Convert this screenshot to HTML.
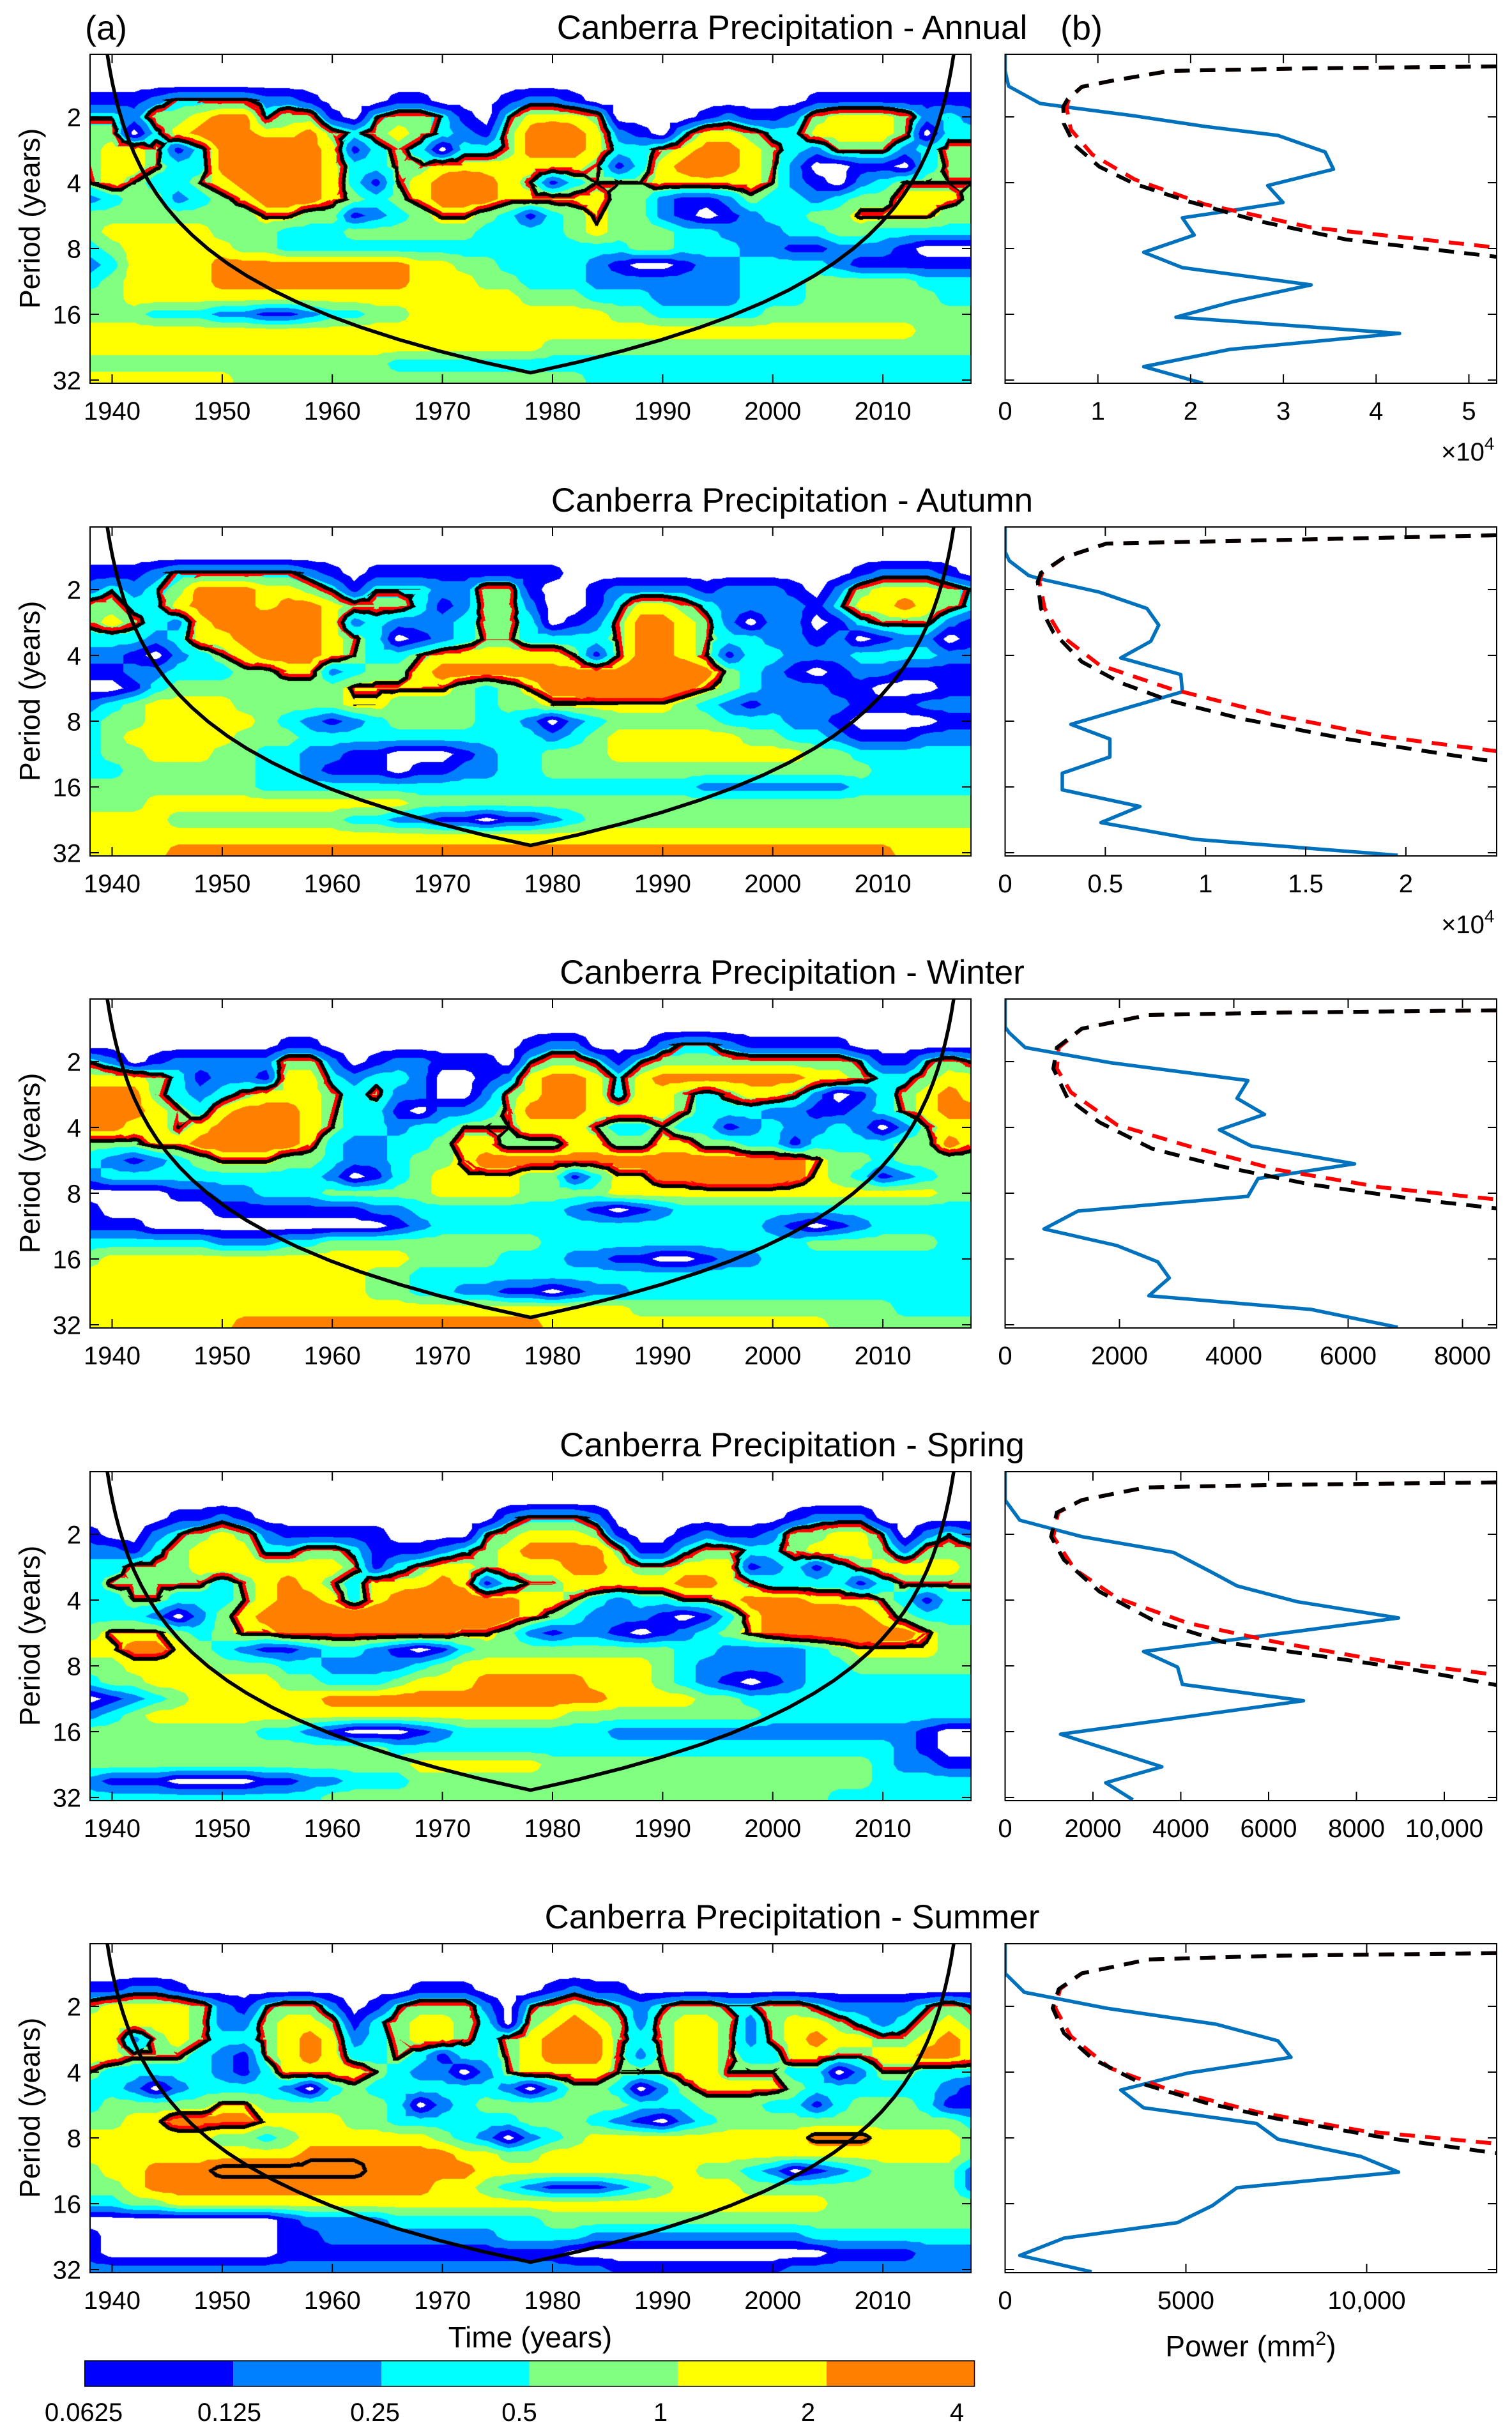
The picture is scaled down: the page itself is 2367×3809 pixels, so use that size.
<!DOCTYPE html>
<html><head><meta charset="utf-8">
<style>
html,body{margin:0;padding:0;background:#fff;}
body{width:2367px;height:3809px;position:relative;overflow:hidden;}
canvas{position:absolute;left:141px;width:1379px;height:515px;background:#c8f0a0;}
svg{position:absolute;left:0;top:0;}
text{font-family:"Liberation Sans",Arial,sans-serif;fill:#000;}
.t{font-size:53px;text-anchor:middle}
.xl text{font-size:40px;text-anchor:middle}
.yl text{font-size:40px;text-anchor:end}
.pl{font-size:45px;text-anchor:middle}
.m{font-size:40px;text-anchor:end}
.bl{fill:none;stroke:#0072BD;stroke-width:5.5;stroke-linejoin:round}
.rd{fill:none;stroke:#f00;stroke-width:6;stroke-dasharray:24 16}
.bk{fill:none;stroke:#000;stroke-width:6;stroke-dasharray:24 16}
.tk{stroke:#000;stroke-width:2;fill:none}
</style></head><body>
<canvas id="c0" width="1379" height="515" style="top:85px"></canvas>
<canvas id="c1" width="1379" height="515" style="top:825px"></canvas>
<canvas id="c2" width="1379" height="515" style="top:1564px"></canvas>
<canvas id="c3" width="1379" height="515" style="top:2304px"></canvas>
<canvas id="c4" width="1379" height="515" style="top:3043px"></canvas>
<svg width="2367" height="3809" viewBox="0 0 2367 3809">
<defs>
<clipPath id="ca" clipPathUnits="userSpaceOnUse"><rect x="141" y="0" width="1379" height="515"/></clipPath>
<clipPath id="cb" clipPathUnits="userSpaceOnUse"><rect x="0" y="0" width="769.5" height="515"/></clipPath>
<polyline id="coi" fill="none" stroke="#000" stroke-width="5.5" stroke-linejoin="round" points="161,-55.4 164,-29 168,0.1 172,24.3 176,45.1 181,67.5 186,86.8 193,110 201,133 210,155 221,178 233,199.5 246,219.7 261,240 281,263.2 301,283.2 326,304.9 356,327.3 386,346.6 426,369 466,388.3 516,409.4 566,427.8 626,447.1 686,464.2 756,481.9 830.5,498.6 905,481.9 975,464.2 1035,447.1 1095,427.8 1145,409.4 1195,388.3 1235,369 1275,346.6 1305,327.3 1335,304.9 1360,283.2 1380,263.2 1400,240 1415,219.7 1428,199.5 1440,178 1451,155 1460,133 1468,110 1475,86.8 1480,67.5 1485,45.1 1489,24.3 1493,0.1 1497,-29 1500,-55.4"/>
<g id="axA">
<rect x="141" y="0" width="1379" height="515" fill="none" stroke="#000" stroke-width="2"/>
<path class="tk" d="M175.5 0v14M347.9 0v14M520.2 0v14M692.6 0v14M865 0v14M1037.4 0v14M1209.7 0v14M1382.1 0v14M175.5 515v-14M347.9 515v-14M520.2 515v-14M692.6 515v-14M865 515v-14M1037.4 515v-14M1209.7 515v-14M1382.1 515v-14M141 98h14M141 201h14M141 304h14M141 407h14M141 510h14M1520 98h-14M1520 201h-14M1520 304h-14M1520 407h-14M1520 510h-14"/>
</g>
<g id="axB">
<rect x="0" y="0" width="769.5" height="515" fill="none" stroke="#000" stroke-width="2"/>
<path class="tk" d="M0 98h14M0 201h14M0 304h14M0 407h14M0 510h14M769.5 98h-14M769.5 201h-14M769.5 304h-14M769.5 407h-14M769.5 510h-14"/>
</g>
</defs>

<text x="133" y="62" font-size="54">(a)</text>
<text x="1660" y="62" font-size="54">(b)</text>

<!-- Panel 1 Annual -->
<g transform="translate(0,85)">
<text class="t" x="1240" y="-24">Canberra Precipitation - Annual</text>
<use href="#coi" clip-path="url(#ca)"/>
<use href="#axA"/>
<g class="xl"><text x="175.5" y="572">1940</text><text x="347.9" y="572">1950</text><text x="520.2" y="572">1960</text><text x="692.6" y="572">1970</text><text x="865" y="572">1980</text><text x="1037.4" y="572">1990</text><text x="1209.7" y="572">2000</text><text x="1382.1" y="572">2010</text></g>
<g class="yl"><text x="127" y="112.5">2</text><text x="127" y="215.5">4</text><text x="127" y="318.5">8</text><text x="127" y="421.5">16</text><text x="127" y="524.5">32</text></g>
<text class="pl" transform="translate(62,257) rotate(-90)">Period (years)</text>
<g transform="translate(1573.5,0)">
<g clip-path="url(#cb)">
<polyline class="bl" points="0,0 0,26 5.5,50 54.7,77 92,82 203,96.5 313,113 427,127 501,153 514,180 411,205.5 435,232 352,245 277.5,256 296,283 217,310 277.5,334 479,361 358,387 267.5,411.5 617.5,437 352,462 217,489 309.5,515"/>
<polyline class="rd" points="769,19 479,22 258,26 164,42 120,51 100,70 96,82 103,118 136.5,157 203,196 313,235 479,271 769,302.5"/>
<polyline class="bk" points="769,19 479,22 258,26 164,42 120,51 98,70 91,82 92,108.6 109,142.5 147.6,176 203,203 286,230 396,261 534.5,290 769,317"/>
</g>
<use href="#axB"/>
<path class="tk" d="M145.2 0v14M290.4 0v14M435.6 0v14M580.8 0v14M726 0v14M145.2 515v-14M290.4 515v-14M435.6 515v-14M580.8 515v-14M726 515v-14"/>
<g class="xl"><text x="0" y="572">0</text><text x="145.2" y="572">1</text><text x="290.4" y="572">2</text><text x="435.6" y="572">3</text><text x="580.8" y="572">4</text><text x="726" y="572">5</text></g>
<text class="m" x="766" y="636">×10<tspan font-size="28" dy="-17">4</tspan></text>
</g>
</g>

<!-- Panel 2 Autumn -->
<g transform="translate(0,825)">
<text class="t" x="1240" y="-24">Canberra Precipitation - Autumn</text>
<use href="#coi" clip-path="url(#ca)"/>
<use href="#axA"/>
<g class="xl"><text x="175.5" y="572">1940</text><text x="347.9" y="572">1950</text><text x="520.2" y="572">1960</text><text x="692.6" y="572">1970</text><text x="865" y="572">1980</text><text x="1037.4" y="572">1990</text><text x="1209.7" y="572">2000</text><text x="1382.1" y="572">2010</text></g>
<g class="yl"><text x="127" y="112.5">2</text><text x="127" y="215.5">4</text><text x="127" y="318.5">8</text><text x="127" y="421.5">16</text><text x="127" y="524.5">32</text></g>
<text class="pl" transform="translate(62,257) rotate(-90)">Period (years)</text>
<g transform="translate(1573.5,0)">
<g clip-path="url(#cb)">
<polyline class="bl" points="0,0 0,39 6.6,53 37,76 53.6,81 147.6,102 222,127.6 240.5,153.6 228,179 181,205 275,231 277.5,258 103,309 164,332 164,360 89.5,385.5 89.5,411.5 211,437.6 150,462.8 297,489 614.7,514"/>
<polyline class="rd" points="769,13 424,20.5 158.6,26 92,48 58,72 53.6,86 62,127.6 87,169.5 147.6,216 258,253 424,295 590,328 769,351"/>
<polyline class="bk" points="769,13 424,20.5 158.6,26 92,48 56,72 51,86 56,127.6 75.5,165 120,211 181,244 258,272 369,300 534.5,332 750,365 769,366"/>
</g>
<use href="#axB"/>
<path class="tk" d="M156.85 0v14M313.7 0v14M470.55 0v14M627.4 0v14M156.85 515v-14M313.7 515v-14M470.55 515v-14M627.4 515v-14"/>
<g class="xl"><text x="0" y="572">0</text><text x="156.85" y="572">0.5</text><text x="313.7" y="572">1</text><text x="470.55" y="572">1.5</text><text x="627.4" y="572">2</text></g>
<text class="m" x="766" y="636">×10<tspan font-size="28" dy="-17">4</tspan></text>
</g>
</g>

<!-- Panel 3 Winter -->
<g transform="translate(0,1564)">
<text class="t" x="1240" y="-24">Canberra Precipitation - Winter</text>
<use href="#coi" clip-path="url(#ca)"/>
<use href="#axA"/>
<g class="xl"><text x="175.5" y="572">1940</text><text x="347.9" y="572">1950</text><text x="520.2" y="572">1960</text><text x="692.6" y="572">1970</text><text x="865" y="572">1980</text><text x="1037.4" y="572">1990</text><text x="1209.7" y="572">2000</text><text x="1382.1" y="572">2010</text></g>
<g class="yl"><text x="127" y="112.5">2</text><text x="127" y="215.5">4</text><text x="127" y="318.5">8</text><text x="127" y="421.5">16</text><text x="127" y="524.5">32</text></g>
<text class="pl" transform="translate(62,257) rotate(-90)">Period (years)</text>
<g transform="translate(1573.5,0)">
<g clip-path="url(#cb)">
<polyline class="bl" points="0,0 0,44 6.6,53 31.5,76 164,99.6 380,127.6 363,155.5 406,180.6 335.5,204.8 385,230 547,258 396,281 380,309 114,332 60.8,360 175,386 239,411.5 257,436.7 225,464.6 479,486 614.7,514"/>
<polyline class="rd" points="769,17.7 424,21.4 224,25 120,46.5 84,76 81,109 103,146 175,197 286,230 424,267 590,295 769,313.8"/>
<polyline class="bk" points="769,17.7 424,21.4 224,25 120,46.5 81,76 75.5,109 97.8,155.5 147.6,193 230.5,234.6 341,262.6 479,290.5 645,313.8 769,327.7"/>
</g>
<use href="#axB"/>
<path class="tk" d="M179 0v14M358 0v14M537 0v14M716 0v14M179 515v-14M358 515v-14M537 515v-14M716 515v-14"/>
<g class="xl"><text x="0" y="572">0</text><text x="179" y="572">2000</text><text x="358" y="572">4000</text><text x="537" y="572">6000</text><text x="716" y="572">8000</text></g>
</g>
</g>

<!-- Panel 4 Spring -->
<g transform="translate(0,2304)">
<text class="t" x="1240" y="-24">Canberra Precipitation - Spring</text>
<use href="#coi" clip-path="url(#ca)"/>
<use href="#axA"/>
<g class="xl"><text x="175.5" y="572">1940</text><text x="347.9" y="572">1950</text><text x="520.2" y="572">1960</text><text x="692.6" y="572">1970</text><text x="865" y="572">1980</text><text x="1037.4" y="572">1990</text><text x="1209.7" y="572">2000</text><text x="1382.1" y="572">2010</text></g>
<g class="yl"><text x="127" y="112.5">2</text><text x="127" y="215.5">4</text><text x="127" y="318.5">8</text><text x="127" y="421.5">16</text><text x="127" y="524.5">32</text></g>
<text class="pl" transform="translate(62,257) rotate(-90)">Period (years)</text>
<g transform="translate(1573.5,0)">
<g clip-path="url(#cb)">
<polyline class="bl" points="0,0 0,44.5 23,76 120,101.7 263.7,126.4 324.5,158 363,178.8 457,203.5 616,229 216.7,281.5 270,306 277.5,333 467,358.6 86.8,411 245.4,462 157.5,487 200,513.7"/>
<polyline class="rd" points="769,16.8 424,20.7 220,24.7 120,44.5 83,64 75.5,101.7 109,153 175,197.6 286,237 424,266.7 590,296 769,318"/>
<polyline class="bk" points="769,16.8 424,20.7 220,24.7 120,44.5 81,64 72,101.7 92,138 147.6,187.7 230.5,232 341,266.7 479,286.5 645,311 769,334"/>
</g>
<use href="#axB"/>
<path class="tk" d="M137.5 0v14M275 0v14M412.5 0v14M550 0v14M687.5 0v14M137.5 515v-14M275 515v-14M412.5 515v-14M550 515v-14M687.5 515v-14"/>
<g class="xl"><text x="0" y="572">0</text><text x="137.5" y="572">2000</text><text x="275" y="572">4000</text><text x="412.5" y="572">6000</text><text x="550" y="572">8000</text><text x="687.5" y="572">10,000</text></g>
</g>
</g>

<!-- Panel 5 Summer -->
<g transform="translate(0,3043)">
<text class="t" x="1240" y="-24">Canberra Precipitation - Summer</text>
<use href="#coi" clip-path="url(#ca)"/>
<use href="#axA"/>
<g class="xl"><text x="175.5" y="572">1940</text><text x="347.9" y="572">1950</text><text x="520.2" y="572">1960</text><text x="692.6" y="572">1970</text><text x="865" y="572">1980</text><text x="1037.4" y="572">1990</text><text x="1209.7" y="572">2000</text><text x="1382.1" y="572">2010</text></g>
<g class="yl"><text x="127" y="112.5">2</text><text x="127" y="215.5">4</text><text x="127" y="318.5">8</text><text x="127" y="421.5">16</text><text x="127" y="524.5">32</text></g>
<text class="pl" transform="translate(62,257) rotate(-90)">Period (years)</text>
<g transform="translate(1573.5,0)">
<g clip-path="url(#cb)">
<polyline class="bl" points="0,0 0,46.4 30,76 158.6,101 330,126 427,152 447.5,177.8 286,202.5 181,229 216.7,256.8 393.6,281.5 427,306 556.6,333 616,357.6 363,382 324.5,410 270,436.6 92,461 23,488 135.4,513.7"/>
<polyline class="rd" points="769,14.8 424,18.8 224,24.7 120,46.4 86,71 78.5,100.8 103,145 164,194.6 258,229 396,263.8 562,293.4 769,313"/>
<polyline class="bk" points="769,14.8 424,18.8 224,24.7 120,46.4 84,71 74.5,100.8 92,140 136.5,180 214,219 313.4,249 424,273.6 590,303 769,328"/>
</g>
<use href="#axB"/>
<path class="tk" d="M283 0v14M566 0v14M283 515v-14M566 515v-14"/>
<g class="xl"><text x="0" y="572">0</text><text x="283" y="572">5000</text><text x="566" y="572">10,000</text></g>
</g>
</g>

<text x="830" y="3675" font-size="46" text-anchor="middle">Time (years)</text>
<text x="1958" y="3689" font-size="46" text-anchor="middle">Power (mm<tspan font-size="30" dy="-18">2</tspan><tspan dy="18">)</tspan></text>

<!-- colorbar -->
<rect x="132.7" y="3696" width="232.6" height="40" fill="#0000ff"/>
<rect x="365.3" y="3696" width="231.7" height="40" fill="#0080ff"/>
<rect x="597" y="3696" width="231.6" height="40" fill="#00ffff"/>
<rect x="828.6" y="3696" width="232.4" height="40" fill="#80ff80"/>
<rect x="1061" y="3696" width="233" height="40" fill="#ffff00"/>
<rect x="1294" y="3696" width="231.5" height="40" fill="#ff8000"/>
<rect x="132.7" y="3696" width="1392.8" height="40" fill="none" stroke="#000" stroke-width="1.5"/>
<g class="xl"><text x="131" y="3790">0.0625</text><text x="359" y="3790">0.125</text><text x="587" y="3790">0.25</text><text x="813" y="3790">0.5</text><text x="1034" y="3790">1</text><text x="1265" y="3790">2</text><text x="1498" y="3790">4</text></g>
</svg>

<script>
(function(){
var Z="00000000000000000000000000000000000000000";
var G=[
[Z,Z,Z,
"1112333322 1000110001 2210000000 00011111111",
"3324456634 4103443103 5554000012 11245554232",
"4403567655 6434543214 6765210355 43355554033",
"4554136777 6513430334 6665334566 54324442344",
"4554336777 6533445555 5554135676 54200110344",
"4543345677 6531456765 4134445555 54210234444",
"2344234566 6543456665 5555442112 43323445554",
"4444444455 4412345543 1345442101 23344555544",
"4555554443 3344444433 3345444332 22334433333",
"3455555443 3333333333 3333344333 22112221000",
"2355556666 6666655443 3332100122 33332111111",
"3455556666 6666655544 3332222222 33344444333",
"4455555555 5555555555 4443332222 33344444433",
"4443332211 2334455555 5555443333 34444444444",
"5555555555 5555555555 5555555555 55555555444",
"5555555555 5555555555 5444444444 44444444444",
"4444444444 4444333333 3333333333 33333333333",
"5555555444 4444444444 4443333333 33333333333",
"5555555444 4444444444 4443333333 33333333333"],
[Z,Z,Z,
"1112333333 2101111111 1100000000 00000122210",
"2323466655 4313332244 1001222212 22102455543",
"4433567656 6544431244 2001355432 22213556543",
"4543256677 6523222344 3012466542 02201344421",
"3332355677 6543012344 3333466543 32212012201",
"2210234566 6543345555 5541466541 33222333322",
"1122333445 5234456666 6666677764 32101221111",
"0013444444 4455555434 5667777654 32221100011",
"2345555444 4455444434 4555555432 12222111222",
"3445555543 2123444433 2023444443 33221000011",
"3455555444 3333333333 3234555555 44332111222",
"3445554433 2211000123 3444555555 55544333333",
"3344444433 2111011223 3444444444 44444433333",
"4444444433 3333333333 3333333322 22222333333",
"4445555555 5555544444 4444444444 44444444444",
"5555444444 4433221101 1234444444 44444444444",
"5555555555 5555555555 5555555555 55555555555",
"5555666666 6666666666 6666666666 66666665555",
"5556666666 6666666666 6666666666 66666666555"],
[Z,Z,Z,
"0000000001 1000000000 1220002332 11111000000",
"3201222224 4201221110 3443134444 44444311343",
"5554312215 5323320012 5665356666 66655433455",
"6664323455 5434220024 5665355434 55420134565",
"6665435666 5433102234 6665555433 32211234566",
"6655456776 5433233444 5554334331 23223202455",
"4445566666 5322334554 4455445544 33133334465",
"3212345554 4322344566 6666666666 66654434444",
"2333333333 3201345555 4413556677 77654312344",
"0000112233 3444445555 4444555555 55555555544",
"1000001111 1112233333 3321012333 33333333333",
"1110000000 0000123333 3333333333 32101233333",
"3333332223 3444444444 4333333333 33344444433",
"4555555555 5555544443 3322110012 23333333333",
"5555555555 5554433333 3333333333 33333333333",
"5555555555 5554433221 1012233333 33333333333",
"5555555555 5555555555 5555544444 44444443333",
"5555555666 6666666666 6555555555 55554444444",
"5555556666 6666666666 6655555555 55555544444"],
[Z,Z,Z,
"0000112100 0000000002 3332000000 00122200000",
"1002345421 1111000034 5554100121 12445530232",
"2213455533 4431112345 6666411344 33455542444",
"3344455555 5541345545 5566544555 12313455554",
"3444443456 5435556513 4455555665 43333134444",
"3344333456 6535677766 5543233445 66655543133",
"3332024567 7777777776 5432221013 56777654333",
"4555434556 6666666554 2122101234 56777766544",
"5566543211 2332101344 4444444332 22234555544",
"4455554443 3222234555 5555554322 22233444444",
"3445555554 4333455566 6665554321 01233333333",
"0123455555 5666666666 6666555544 33333333333",
"2345555555 5555555555 5544444444 43333333333",
"4444444433 2100012333 3333222222 22222222100",
"4444444444 4444333333 3333333333 33333332100",
"4444444444 4444455555 5444444444 44444432211",
"2111000011 2233344444 4444444444 44444433333",
"3333333333 3444444444 4444444444 44443333333",
"3333333333 3444444444 4444444444 44443333333"],
[Z,Z,Z,
"1122100000 0000011100 0121100000 00000000000",
"4555542134 4201344420 3454323443 34432222343",
"5555542245 5413455430 4565424554 24554323454",
"5524543345 6523455434 5676434554 24565544565",
"5544432145 6533431334 5666424554 33554455665",
"4333332135 5554322024 5555444554 44330244333",
"3320233332 0343333332 0244302455 55433333321",
"3444445544 4444302344 4444433344 43313444311",
"4455666655 5544333333 4443210234 44444444443",
"5555554434 5555554320 2345555555 55566655554",
"5555555555 6666666554 4555555555 55555555554",
"4556667777 7776666655 5555555544 32012344442",
"4456666666 6666665543 2111234555 44444444442",
"3344555555 5555555555 5555555555 55554444444",
"0000000001 2222333333 3444444444 44444444444",
"1000000001 1222222223 3332222222 22233333333",
"1000000001 1111111111 1100000000 00001111222",
"2222222222 2222222222 2222111111 11222222222",
"33333333333333333333333333333333333333333"]
];
var COL=[[255,255,255],[0,0,255],[0,128,255],[0,255,255],[128,255,128],[255,255,0],[255,128,0]];
var TP=[[0,12],[0.5,6],[0.75,3.2],[1,3.6],[1.5,4.1],[2,4.5],[2.5,5.3],[2.75,5.7],[3,6.1],[3.25,6.8],[3.5,7.0],[4,7.7],[5.5,9.5]];
function thr(l){
  if(l<=TP[0][0])return TP[0][1];
  for(var i=1;i<TP.length;i++){
    if(l<=TP[i][0]){var a=TP[i-1],b=TP[i];return a[1]+(b[1]-a[1])*(l-a[0])/(b[0]-a[0]);}
  }
  return TP[TP.length-1][1];
}
function tri(a,b,c,d,u,w){
  var m=(a+b+c+d)*0.25,dx=u-0.5,dy=w-0.5;
  if(Math.abs(dy)>=Math.abs(dx)){
    if(dy<0) return a+(b-a)*u+(2*m-a-b)*w;
    return c+(d-c)*u+(2*m-c-d)*(1-w);
  } else {
    if(dx<0) return a+(c-a)*w+(2*m-a-c)*u;
    return b+(d-b)*w+(2*m-b-d)*(1-u);
  }
}
var W=1379,H=515;
for(var k=0;k<G.length;k++){
  var g=G[k].map(function(r){
    r=r.replace(/\s/g,'');
    while(r.length<41)r+=r.charAt(r.length-1);
    r=r.slice(0,41);
    var o=[];for(var q=0;q<41;q++)o.push(+r.charAt(q));return o;
  });
  var NR=g.length;
  var V=new Float32Array(W*H),S=new Float32Array(W*H),L=new Float32Array(H);
  for(var y=0;y<H;y++){
    var l=1+(y+0.5-98)/103;L[y]=l;
    var ry=l*4;if(ry<0)ry=0;if(ry>NR-1)ry=NR-1;
    var r0=Math.floor(ry);if(r0>=NR-1)r0=NR-2;var fr=ry-r0;
    var t=thr(l),A=g[r0],B=g[r0+1];
    for(var x=0;x<W;x++){
      var cx=(x+0.5)/34.475;if(cx>40)cx=40;
      var c0=Math.floor(cx);if(c0>=40)c0=39;var fc=cx-c0;
      var v=tri(A[c0],A[c0+1],B[c0],B[c0+1],fc,fr)+0.5;
      V[y*W+x]=v;S[y*W+x]=v-t;
    }
  }
  var cv=document.getElementById('c'+k);
  var ctx=cv.getContext('2d');
  var im=ctx.createImageData(W,H),d=im.data;
  for(var y2=0;y2<H;y2++){
    for(var x2=0;x2<W;x2++){
      var i=y2*W+x2;
      var xa=x2>0?i-1:i,xb=x2<W-1?i+1:i,ya=y2>0?i-W:i,yb=y2<H-1?i+W:i;
      var gx=(S[xb]-S[xa])/((xb-xa)||1);
      var gy=(S[yb]-S[ya])/(((yb-ya)/W)||1);
      var gm=Math.max(Math.sqrt(gx*gx+gy*gy),1e-5);
      var dist=S[i]/gm;
      var c;
      if(Math.abs(dist)<3.0)c=[0,0,0];
      else if(dist>=3.0&&dist<8.0&&L[y2]<2.95)c=[255,0,0];
      else{var b=Math.floor(V[i]);if(b<0)b=0;if(b>6)b=6;c=COL[b];}
      d[4*i]=c[0];d[4*i+1]=c[1];d[4*i+2]=c[2];d[4*i+3]=255;
    }
  }
  ctx.putImageData(im,0,0);
}
})();
</script>
</body></html>
